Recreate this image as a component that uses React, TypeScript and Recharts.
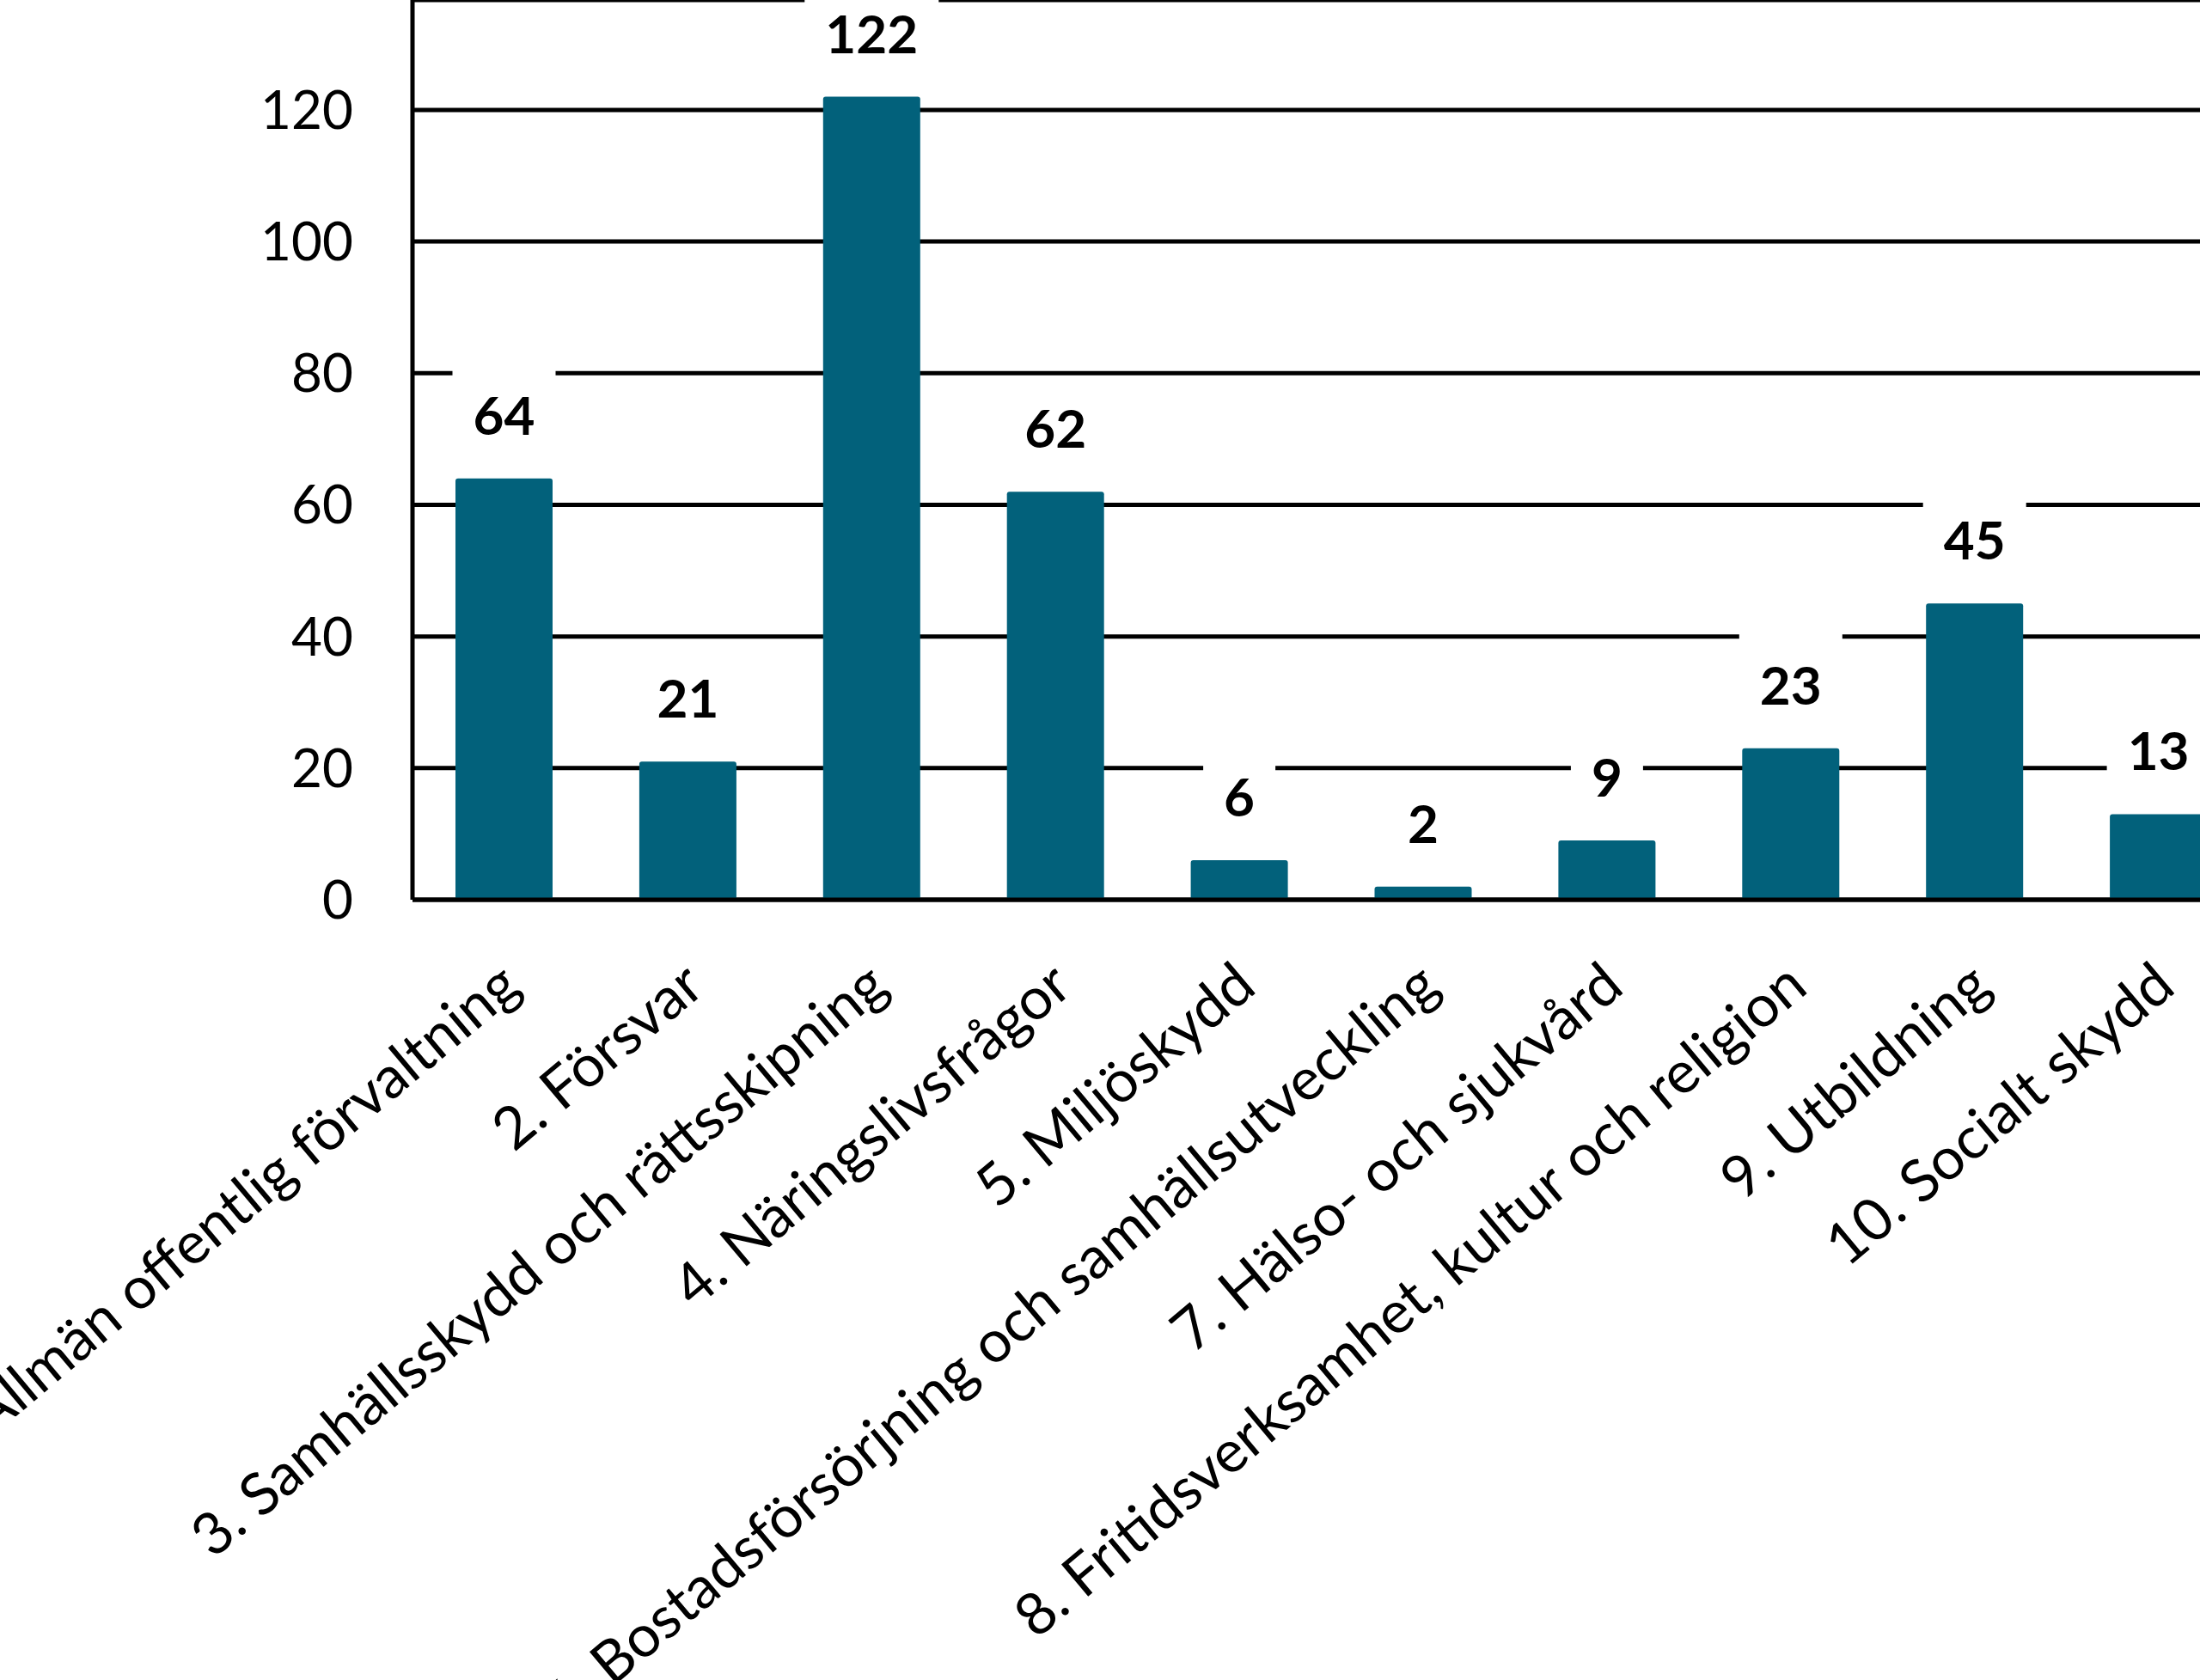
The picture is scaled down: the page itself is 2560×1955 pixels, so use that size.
import { BarChart, Bar, XAxis, YAxis, CartesianGrid, LabelList } from "recharts";

const categories = [
  "1. Allmän offentlig förvaltning",
  "2. Försvar",
  "3. Samhällsskydd och rättsskipning",
  "4. Näringslivsfrågor",
  "5. Miljöskydd",
  "6. Bostadsförsörjning och samhällsutveckling",
  "7. Hälso- och sjukvård",
  "8. Fritidsverksamhet, kultur och religion",
  "9. Utbildning",
  "10. Socialt skydd",
];
const values = [64, 21, 122, 62, 6, 2, 9, 23, 45, 13];
const yTicks = [0, 20, 40, 60, 80, 100, 120];

const data = categories.map((name, i) => ({ name, value: values[i] }));

const FONT = "Lato, 'Noto Sans', sans-serif";
const BAR = "#02617b";

// rotated category label, end of text hangs just below the tick
function CategoryTick(props: { x?: number; y?: number; payload?: { value: string } }) {
  const x = Number(props.x);
  const y = Number(props.y);
  return (
    <g transform={`translate(${x},${y + 78}) rotate(-40)`}>
      <text x={0} y={0} dy="0.5em" textAnchor="end" fontSize={68} fontFamily={FONT} fill="#000">
        {props.payload?.value}
      </text>
    </g>
  );
}

// value label on a white box that knocks out the gridlines behind it
function ValueLabel(props: { x?: number | string; y?: number | string; width?: number | string; value?: number | string }) {
  const cx = Number(props.x) + Number(props.width) / 2;
  const base = Number(props.y) - 51;
  const txt = String(props.value);
  const w = txt.length * 36 + 48;
  return (
    <g>
      <rect x={cx - w / 2} y={base - 82} width={w} height={102} fill="#fff" />
      <text x={cx} y={base} textAnchor="middle" fontSize={62} fontWeight={700} fontFamily={FONT} fill="#000">
        {txt}
      </text>
    </g>
  );
}

export default function App() {
  return (
    <div style={{ position: "absolute", left: 0, top: 0, width: 2560, height: 1955, overflow: "hidden", background: "#fff" }}>
      <BarChart width={2640} height={1955} data={data} margin={{ top: 0, right: 21, bottom: 0, left: 0 }}>
        <CartesianGrid vertical={false} stroke="#000" strokeWidth={5} />
        <XAxis
          dataKey="name"
          interval={0}
          height={908}
          tickLine={false}
          tickSize={0}
          axisLine={{ stroke: "#000", strokeWidth: 5 }}
          tick={<CategoryTick />}
        />
        <YAxis
          domain={[0, 136.7]}
          ticks={yTicks}
          width={480}
          tickLine={false}
          tickSize={0}
          tickMargin={69}
          axisLine={{ stroke: "#000", strokeWidth: 5 }}
          tick={{ fontSize: 62, fontFamily: FONT, fill: "#000" }}
        />
        <Bar dataKey="value" fill={BAR} barSize={113} radius={[3, 3, 0, 0]} isAnimationActive={false}>
          <LabelList dataKey="value" content={<ValueLabel />} />
        </Bar>
      </BarChart>
    </div>
  );
}
